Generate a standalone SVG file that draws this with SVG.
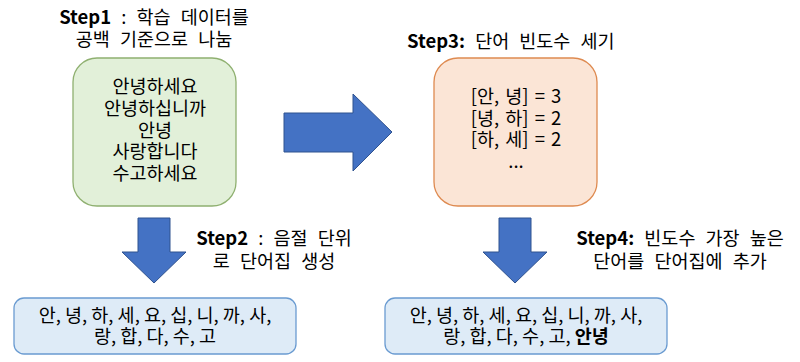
<svg xmlns="http://www.w3.org/2000/svg" width="800" height="362" viewBox="0 0 800 362">
<style>
text{font-family:"Malgun Gothic","Noto Sans CJK KR",sans-serif;font-size:18.5px;fill:#000;text-anchor:middle}
.lbl{word-spacing:6px}
.bx{word-spacing:2px}
.b{font-weight:bold}
.arrow{fill:#4472C4;stroke:#2F528F;stroke-width:1}
</style>
<rect width="800" height="362" fill="#fff"/>
<g id="step1-label" class="lbl">
<text x="154" y="24"><tspan class="b">Step1</tspan> : 학습 데이터를</text>
<text x="154" y="46">공백 기준으로 나눔</text>
</g>
<g id="train-data">
<rect x="73" y="58" width="163" height="148" rx="24" fill="#E2F0D9" stroke="#8FB070" stroke-width="1.3"/>
<text x="155" y="93">안녕하세요</text>
<text x="155" y="115">안녕하십니까</text>
<text x="155" y="137">안녕</text>
<text x="155" y="158">사랑합니다</text>
<text x="155" y="180">수고하세요</text>
</g>
<g id="step3-label" class="lbl">
<text x="407" y="48" style="text-anchor:start"><tspan class="b">Step3:</tspan> 단어 빈도수 세기</text>
</g>
<g id="freq" class="bx">
<rect x="434" y="58" width="163" height="148" rx="24" fill="#FBE5D6" stroke="#DE8A50" stroke-width="1.3"/>
<text x="516" y="103">[안, 녕] = 3</text>
<text x="516" y="125">[녕, 하] = 2</text>
<text x="516" y="146">[하, 세] = 2</text>
<text x="516" y="168">...</text>
</g>
<g id="step2-label" class="lbl">
<text x="274" y="245"><tspan class="b">Step2</tspan> : 음절 단위</text>
<text x="274" y="268">로 단어집 생성</text>
</g>
<g id="vocab1">
<rect x="14" y="298" width="282" height="56" rx="10" fill="#DEEBF7" stroke="#6A9BD1" stroke-width="1.3"/>
<text x="155" y="322">안, 녕, 하, 세, 요, 십, 니, 까, 사,</text>
<text x="155" y="343">랑, 합, 다, 수, 고</text>
</g>
<g id="step4-label" class="lbl">
<text x="680" y="245"><tspan class="b">Step4:</tspan> 빈도수 가장 높은</text>
<text x="680" y="268">단어를 단어집에 추가</text>
</g>
<g id="vocab2">
<rect x="385" y="298" width="282" height="56" rx="10" fill="#DEEBF7" stroke="#6A9BD1" stroke-width="1.3"/>
<text x="526" y="322">안, 녕, 하, 세, 요, 십, 니, 까, 사,</text>
<text x="526" y="343">랑, 합, 다, 수, 고, <tspan class="b">안녕</tspan></text>
</g>
<g id="connectors">
<polygon class="arrow" points="284,113 353,113 353,94 392,132 353,171 353,152 284,152"/>
<polygon class="arrow" points="138,218 170,218 170,252 186,252 154,283 122,252 138,252"/>
<polygon class="arrow" points="499,218 531,218 531,252 547,252 515,283 483,252 499,252"/>
</g>
</svg>
